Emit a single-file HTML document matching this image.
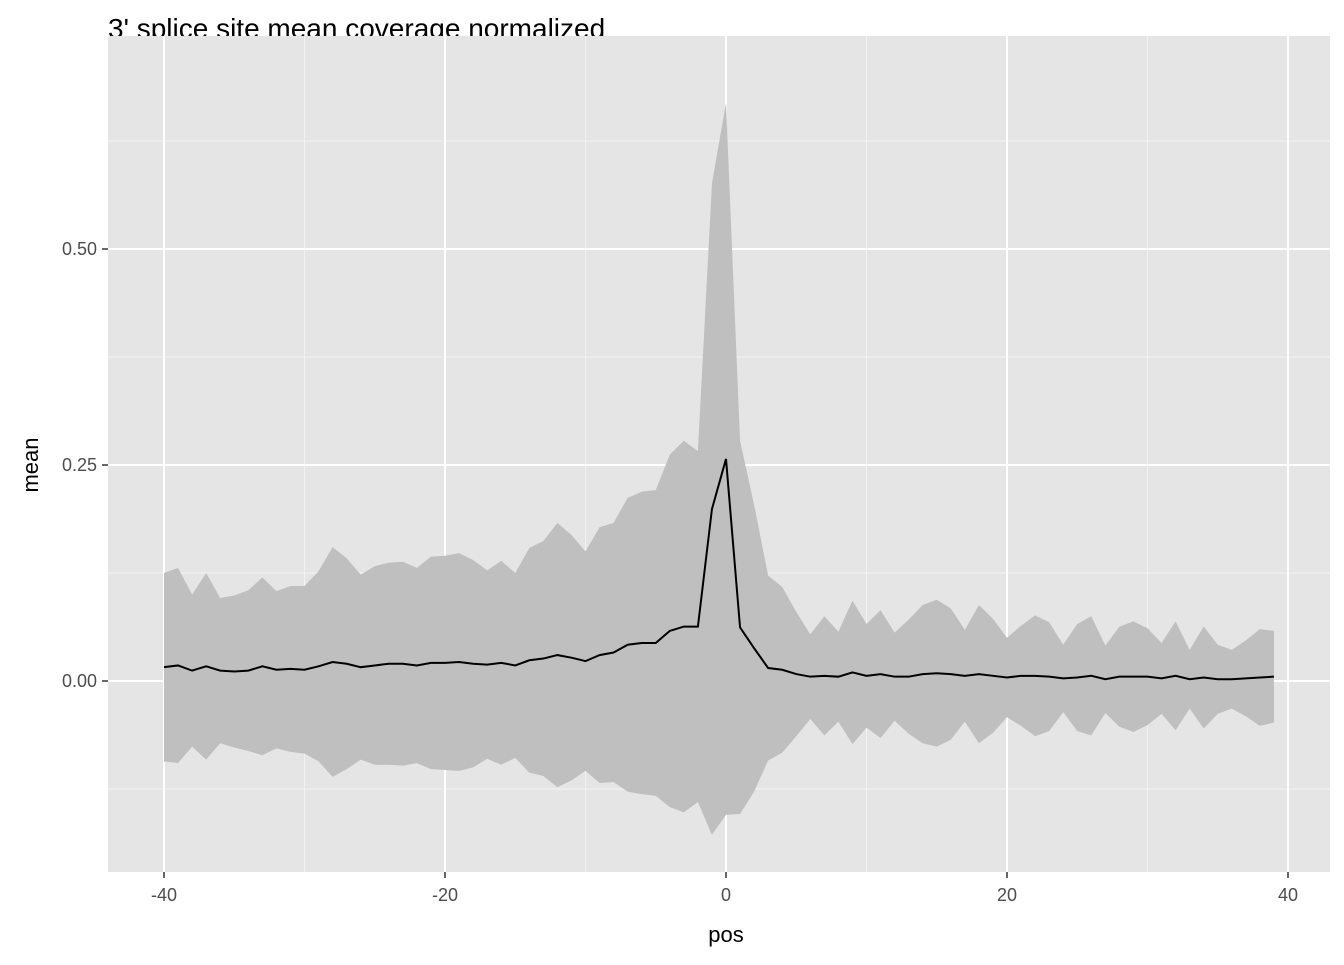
<!DOCTYPE html>
<html><head><meta charset="utf-8"><style>
body{margin:0;background:#fff;}
svg text{font-family:"Liberation Sans",sans-serif;}
</style></head><body>
<svg id="chart" width="1344" height="960">
<text x="108" y="38" font-size="28" fill="#000">3' splice site mean coverage normalized</text>
<rect x="108" y="36" width="1222" height="836" fill="#e5e5e5"/>
<g id="grid"></g>
<g id="ribbon"></g>
<g id="line"></g>
<g id="axes"></g>
<text x="726" y="942" font-size="22" text-anchor="middle" fill="#000">pos</text>
<text transform="translate(38,465) rotate(-90)" font-size="22" text-anchor="middle" fill="#000">mean</text>
</svg>
<script>
const positions=[];for(let p=-40;p<=39;p++)positions.push(p);
const meanValues=[0.016,0.018,0.012,0.017,0.012,0.011,0.012,0.017,0.013,0.014,0.013,0.017,0.022,0.020,0.016,0.018,0.020,0.020,0.018,0.021,0.021,0.022,0.020,0.019,0.021,0.018,0.024,0.026,0.030,0.027,0.023,0.030,0.033,0.042,0.044,0.044,0.058,0.063,0.063,0.199,0.257,0.062,0.038,0.015,0.013,0.008,0.005,0.006,0.005,0.010,0.006,0.008,0.005,0.005,0.008,0.009,0.008,0.006,0.008,0.006,0.004,0.006,0.006,0.005,0.003,0.004,0.006,0.002,0.005,0.005,0.005,0.003,0.006,0.002,0.004,0.002,0.002,0.003,0.004,0.005];
const upperValues=[0.125,0.131,0.100,0.125,0.096,0.099,0.105,0.120,0.104,0.110,0.110,0.127,0.155,0.142,0.123,0.133,0.137,0.138,0.131,0.144,0.145,0.148,0.140,0.128,0.139,0.125,0.154,0.162,0.183,0.169,0.150,0.178,0.183,0.212,0.219,0.221,0.262,0.278,0.266,0.576,0.669,0.278,0.204,0.122,0.109,0.080,0.054,0.075,0.057,0.093,0.066,0.082,0.056,0.071,0.088,0.094,0.084,0.059,0.088,0.072,0.050,0.064,0.076,0.068,0.042,0.066,0.075,0.041,0.063,0.069,0.061,0.044,0.069,0.036,0.063,0.042,0.036,0.047,0.060,0.058];
const xTicks=[-40,-20,0,20,40];
const xMinor=[-30,-10,10,30];
const yTicks=[0,0.25,0.5];
const yTickLabels=["0.00","0.25","0.50"];
const yMinor=[-0.125,0.125,0.375,0.625];

const NS="http://www.w3.org/2000/svg";
const X=v=>726+v*14.05;
const Y=v=>681-v*864;
function mk(tag,attrs,parent){const e=document.createElementNS(NS,tag);for(const k in attrs)e.setAttribute(k,attrs[k]);document.getElementById(parent).appendChild(e);return e;}
xMinor.forEach(v=>{const e=mk('line',{x1:X(v),x2:X(v),y1:36,y2:872,stroke:'#f2f2f2','stroke-width':1},'grid');

});
yMinor.forEach(v=>{const e=mk('line',{x1:108,x2:1330,y1:Y(v),y2:Y(v),stroke:'#f2f2f2','stroke-width':1},'grid');

});
xTicks.forEach(v=>{const e=mk('line',{x1:X(v),x2:X(v),y1:36,y2:872,stroke:'#fff','stroke-width':2},'grid');


const t=mk('line',{x1:X(v),x2:X(v),y1:872,y2:878,stroke:'#333','stroke-width':1.5},'axes');


const l=mk('text',{x:X(v),y:901,'font-size':18,'text-anchor':'middle',fill:'#4d4d4d'},'axes');l.textContent=v;

});
yTicks.forEach((v,i)=>{const e=mk('line',{x1:108,x2:1330,y1:Y(v),y2:Y(v),stroke:'#fff','stroke-width':2},'grid');


const t=mk('line',{x1:102,x2:108,y1:Y(v),y2:Y(v),stroke:'#333','stroke-width':1.5},'axes');


const l=mk('text',{x:97,y:Y(v)+6,'font-size':18,'text-anchor':'end',fill:'#4d4d4d'},'axes');l.textContent=yTickLabels[i];

});
let up=[],lo=[];
positions.forEach((p,i)=>{up.push(X(p)+','+Y(upperValues[i]));});
for(let i=positions.length-1;i>=0;i--){const low=2*meanValues[i]-upperValues[i];lo.push(X(positions[i])+','+Y(low));}
const r=mk('polygon',{points:up.concat(lo).join(' '),fill:'#bfbfbf'},'ribbon');


const ln=mk('polyline',{points:positions.map((p,i)=>X(p)+','+Y(meanValues[i])).join(' '),fill:'none',stroke:'#000','stroke-width':2},'line');


</script>
</body></html>
